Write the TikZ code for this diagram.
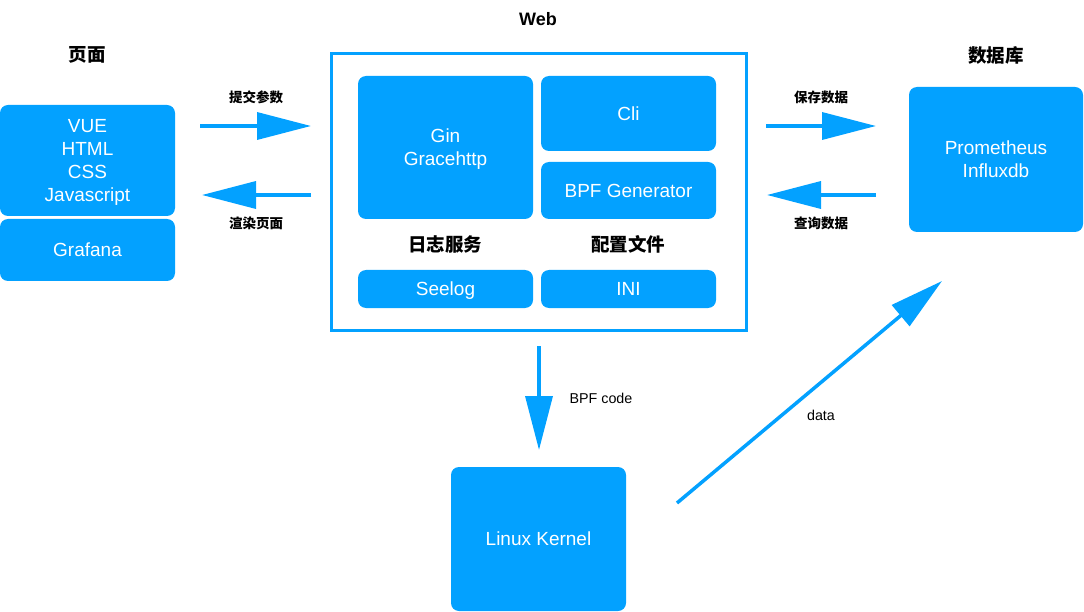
\documentclass[tikz,border=0pt]{standalone}
\usepackage{fontspec}
\setmainfont{Liberation Sans}
\newfontfamily\cjk{Noto Sans CJK SC}
\usetikzlibrary{arrows.meta,calc}
\definecolor{myblue}{RGB}{3,161,255}
\begin{document}
\begin{tikzpicture}[x=1pt,y=-1pt,
  bx/.style={fill=myblue, rounded corners=8pt, text=white, align=center, inner sep=0pt,
    font=\fontsize{19}{23}\selectfont, text depth=0pt},
  one/.style={text height=13.6pt},
  two/.style={text height=36.6pt},
  four/.style={text height=82.6pt},
  webframe/.style={draw=myblue, line width=3pt},
  title/.style={font=\fontsize{18}{22}\selectfont\bfseries},
  cjktitle/.style={font=\fontsize{18.5}{22}\selectfont\cjk\bfseries},
  lbl/.style={font=\fontsize{13.5}{16}\selectfont\cjk\bfseries},
  elbl/.style={font=\fontsize{14.3}{17}\selectfont},
  arr/.style={draw=myblue, line width=3.5pt,
    -{Triangle[length=54pt,width=27pt]}}]
\useasboundingbox (0,0) rectangle (1084,612);
% left
\node[bx, four, minimum width=175pt, minimum height=111pt] (fe) at (87.5,160.5) {VUE\\HTML\\CSS\\Javascript};
\node[bx, one, minimum width=175pt, minimum height=62pt] (graf) at (87.5,250) {Grafana};
\node[cjktitle] (pg) at (87,55) {页面};
% web
\node[webframe, minimum width=415pt, minimum height=276pt, inner sep=0pt] (web) at (538.5,192) {};
\node[title] (webt) at (538,19) {Web};
\node[bx, two, minimum width=175pt, minimum height=143pt] (gin) at (445.5,147.5) {Gin\\Gracehttp};
\node[bx, one, minimum width=175pt, minimum height=75pt] (cli) at (628.5,113.5) {Cli};
\node[bx, one, minimum width=175pt, minimum height=57pt] (bpf) at (628.5,190.5) {BPF Generator};
\node[cjktitle] (log) at (445,244) {日志服务};
\node[cjktitle] (cfg) at (628,244) {配置文件};
\node[bx, one, minimum width=175pt, minimum height=38pt] (seelog) at (445.5,289) {Seelog};
\node[bx, one, minimum width=175pt, minimum height=38pt] (ini) at (628.5,289) {INI};
% right
\node[bx, two, minimum width=174pt, minimum height=145pt] (db) at (996,159.5) {Prometheus\\Influxdb};
\node[cjktitle] (dbt) at (996,55) {数据库};
% bottom
\node[bx, one, minimum width=175pt, minimum height=144pt] (kern) at (538.5,539) {Linux Kernel};
% arrow coordinates
\coordinate (a1s) at (200,126);  \coordinate (a1e) at (311,126);
\coordinate (a2s) at (311,195);  \coordinate (a2e) at (202,195);
\coordinate (a3s) at (766,126);  \coordinate (a3e) at (876,126);
\coordinate (a4s) at (876,195);  \coordinate (a4e) at (767,195);
\coordinate (a5s) at (539,346);  \coordinate (a5e) at (539,450);
\coordinate (a6s) at (677,503);  \coordinate (a6e) at (942,281);
\draw[arr] (a1s) -- (a1e);
\draw[arr] (a2s) -- (a2e);
\draw[arr] (a3s) -- (a3e);
\draw[arr] (a4s) -- (a4e);
\draw[arr] (a5s) -- (a5e);
\draw[arr] (a6s) -- (a6e);
\node[lbl] (l1) at (256,97) {提交参数};
\node[lbl] (l2) at (256,223) {渲染页面};
\node[lbl] (l3) at (821,97) {保存数据};
\node[lbl] (l4) at (821,223) {查询数据};
\node[elbl] (l5) at (601,398) {BPF code};
\node[elbl] (l6) at (821,415) {data};
\end{tikzpicture}
\end{document}
